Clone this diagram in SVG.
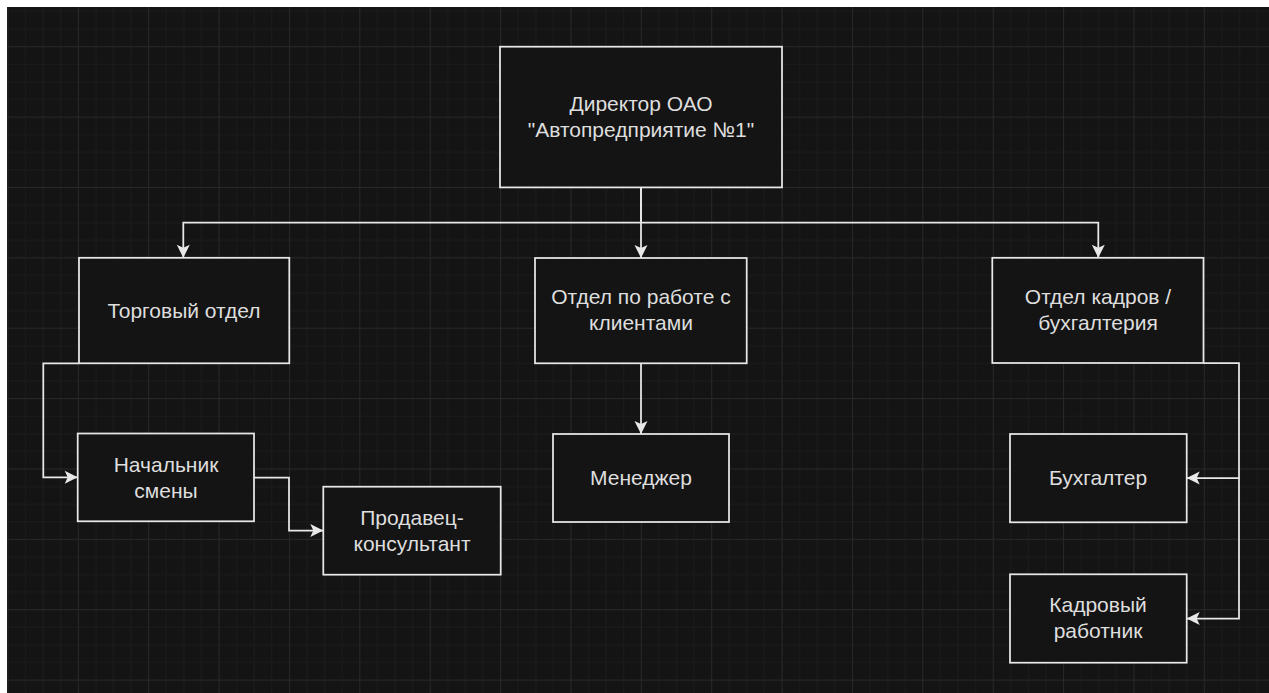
<svg xmlns="http://www.w3.org/2000/svg" width="1269" height="693" viewBox="0 0 1269 693">
<defs>
<pattern id="grid" patternUnits="userSpaceOnUse" x="77.8" y="46.2" width="70.375" height="70.375">
<rect x="0" y="0" width="70.375" height="70.375" fill="#141414"/>
<g fill="#1c1c1c">
<rect x="17.59" y="0" width="1" height="70.375"/>
<rect x="35.19" y="0" width="1" height="70.375"/>
<rect x="52.78" y="0" width="1" height="70.375"/>
<rect x="0" y="17.59" width="70.375" height="1"/>
<rect x="0" y="35.19" width="70.375" height="1"/>
<rect x="0" y="52.78" width="70.375" height="1"/>
</g>
<g fill="#282828">
<rect x="0" y="0" width="1" height="70.375"/>
<rect x="0" y="0" width="70.375" height="1"/>
</g>
</pattern>
<marker id="arr" markerUnits="userSpaceOnUse" markerWidth="16" markerHeight="16" viewBox="-14 -8 16 16" refX="0" refY="0" orient="auto">
<path d="M0,0 L-13,-6.5 L-10,0 L-13,6.5 Z" fill="#e8e8e8"/>
</marker>
<style>
.box{fill:#141414;stroke:#e8e8e8;stroke-width:1.75}
.lbl{font-family:"Liberation Sans",Arial,sans-serif;font-size:21px;fill:#dedede;text-anchor:middle}
.edge{fill:none;stroke:#e8e8e8;stroke-width:1.75;marker-end:url(#arr)}
</style>
</defs>
<rect x="0" y="0" width="1269" height="693" fill="#ffffff"/>
<rect x="7" y="7" width="1262" height="686" fill="url(#grid)"/>

<g id="connectors">
<path class="edge" d="M641,187.4 V222.7 H183.3 V257.8"/>
<path class="edge" d="M641,187.4 V258"/>
<path class="edge" d="M641,222.7 H1098.3 V257.8"/>
<path class="edge" d="M79,363.3 H43.3 V477.3 H77.7"/>
<path class="edge" d="M254,477.5 H289 V530.5 H323.3"/>
<path class="edge" d="M641,363.3 V434"/>
<path class="edge" d="M1203.5,363 H1239 V478 H1186.7"/>
<path class="edge" d="M1239,478 V618.5 H1186.7"/>
</g>

<g id="director">
<rect class="box" x="500" y="46.7" width="282" height="140.7"/>
<text class="lbl" x="641" y="111">Директор ОАО</text>
<text class="lbl" x="641" y="137">"Автопредприятие №1"</text>
</g>
<g id="trade">
<rect class="box" x="79" y="257.8" width="210.3" height="105.5"/>
<text class="lbl" x="184" y="318">Торговый отдел</text>
</g>
<g id="clients">
<rect class="box" x="535" y="258" width="211.7" height="105.3"/>
<text class="lbl" x="641" y="304">Отдел по работе с</text>
<text class="lbl" x="641" y="330">клиентами</text>
</g>
<g id="hr">
<rect class="box" x="992.3" y="257.8" width="211.2" height="105.2"/>
<text class="lbl" x="1098" y="304">Отдел кадров /</text>
<text class="lbl" x="1098" y="330">бухгалтерия</text>
</g>
<g id="shift">
<rect class="box" x="77.7" y="433.5" width="176.3" height="87.8"/>
<text class="lbl" x="166" y="472">Начальник</text>
<text class="lbl" x="166" y="498">смены</text>
</g>
<g id="seller">
<rect class="box" x="323.3" y="486.7" width="177.4" height="88"/>
<text class="lbl" x="412" y="525">Продавец-</text>
<text class="lbl" x="412" y="551">консультант</text>
</g>
<g id="manager">
<rect class="box" x="553" y="434" width="176" height="88"/>
<text class="lbl" x="641" y="485">Менеджер</text>
</g>
<g id="accountant">
<rect class="box" x="1010" y="434" width="176.7" height="88.3"/>
<text class="lbl" x="1098" y="485">Бухгалтер</text>
</g>
<g id="personnel">
<rect class="box" x="1010" y="574.3" width="176.7" height="88.4"/>
<text class="lbl" x="1098" y="612">Кадровый</text>
<text class="lbl" x="1098" y="638">работник</text>
</g>
</svg>
